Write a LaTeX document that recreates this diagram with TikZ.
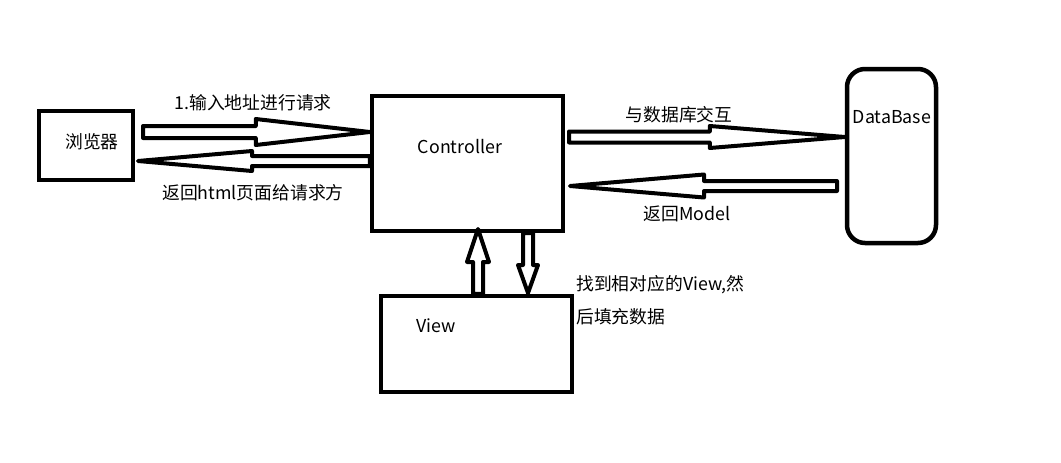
\documentclass[tikz,border=0pt]{standalone}
\usepackage{fontspec}
\setmainfont{Noto Sans CJK SC}
\usetikzlibrary{positioning,calc}

\tikzset{
  box/.style={draw, line width=4.5pt, inner sep=0pt},
  arrowline/.style={draw, line width=4pt, line join=round},
  lbl/.style={font=\fontsize{17.8}{21}\selectfont, inner sep=0pt},
}

% hollow block arrow: tail, tip, shaft half width, head half width, head length
\newcommand{\hollowarrow}[5]{%
  \coordinate (hb) at ($(#2)!#5!(#1)$);
  \draw[arrowline] ($(#1)!#3!90:(#2)$) -- ($(hb)!#3!-90:(#1)$) -- ($(hb)!#4!-90:(#1)$) -- (#2)
    -- ($(hb)!#4!90:(#1)$) -- ($(hb)!#3!90:(#1)$) -- ($(#1)!#3!-90:(#2)$) -- cycle;
}

\begin{document}
\begin{tikzpicture}[x=1pt,y=-1pt]
    \useasboundingbox (0,0) rectangle (1061,463);

    \node[box, minimum width=94, minimum height=69] (browser) at (86,145.5) {};
    \node[box, minimum width=191, minimum height=135] (ctrl) at (467.5,163.5) {};
    \node[box, minimum width=191, minimum height=96] (view) at (476.5,344) {};
    \node[box, rounded corners=18, minimum width=89, minimum height=174] (db) at (891.5,156) {};

    \node[lbl] (browsertext) at (92,142) {浏览器};
    \node[lbl] (ctrltext) at (460,147) {Controller};
    \node[lbl] (viewtext) at (436,326) {View};
    \node[lbl] (dbtext) at (892,117) {DataBase};

    % browser <-> controller
    \coordinate (a1s) at (143,132);
    \coordinate (a1e) at (ctrl.west |- a1s);
    \hollowarrow{a1s}{a1e}{6pt}{13pt}{114pt}
    \coordinate (a2e) at (138,161);
    \coordinate (a2s) at (ctrl.west |- a2e);
    \hollowarrow{a2s}{a2e}{5pt}{10pt}{114pt}
    \node[lbl] (req) at (253,103) {1.输入地址进行请求};
    \node[lbl] (resp) at (253,193) {返回html页面给请求方};

    % controller <-> database
    \coordinate (a3s) at (569,137);
    \coordinate (a3e) at (db.west |- a3s);
    \hollowarrow{a3s}{a3e}{5.5pt}{11pt}{135pt}
    \coordinate (a4s) at (837,186);
    \coordinate (a4e) at (570,186);
    \hollowarrow{a4s}{a4e}{5pt}{11.5pt}{134pt}
    \node[lbl] (dbq) at (679,115) {与数据库交互};
    \node[lbl] (model) at (687,214) {返回Model};

    % controller <-> view
    \coordinate (a5e) at (478,229);
    \coordinate (a5s) at (a5e |- view.north);
    \hollowarrow{a5s}{a5e}{5pt}{11pt}{33pt}
    \coordinate (a6s) at (528,233);
    \coordinate (a6e) at (528,293);
    \hollowarrow{a6s}{a6e}{5pt}{10pt}{28pt}
    \node[lbl, anchor=west] (note1) at (576,285) {找到相对应的View,然};
    \node[lbl, anchor=west] (note2) at (576,317) {后填充数据};
\end{tikzpicture}
\end{document}
